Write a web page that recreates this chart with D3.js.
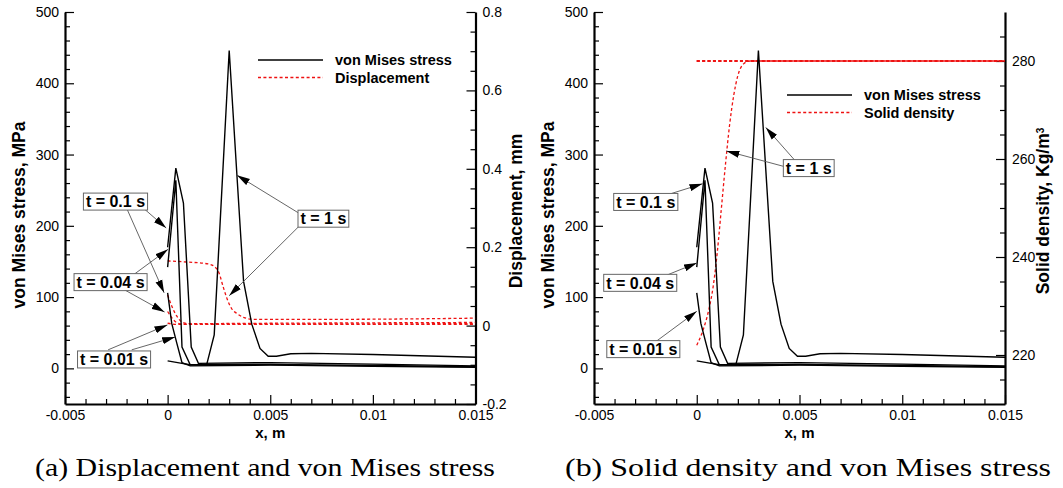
<!DOCTYPE html>
<html>
<head>
<meta charset="utf-8">
<script src="https://cdn.jsdelivr.net/npm/d3@7"></script>
<style>
  body { margin: 0; background: #fff; }
  svg { display: block; }
  .tick text { font-family: "Liberation Sans", Arial, sans-serif; font-size: 14px; fill: #000; }
</style>
</head>
<body>
<script>
'use strict';

// ---- data ----
var xTicks = [-0.005, 0, 0.005, 0.01, 0.015];
var xTickLabels = ["-0.005", "0", "0.005", "0.01", "0.015"];
var stressTicks = [0, 100, 200, 300, 400, 500];
var dispTicks = [-0.2, 0, 0.2, 0.4, 0.6, 0.8];
var dispTickLabels = ["-0.2", "0", "0.2", "0.4", "0.6", "0.8"];
var densityTicks = [220, 240, 260, 280];

// von Mises stress (MPa) vs x (m), four times
var stress_t001 = [[0,106],[0.0002,63],[0.00045,35],[0.0007,8],[0.0011,3.5],[0.005,4.5],[0.01,3],[0.015,1.5]];
var stress_t004 = [[0,142],[0.0004,264],[0.0007,30],[0.0011,5],[0.005,5.5],[0.01,4],[0.015,2.2]];
var stress_t01  = [[0,170],[0.0004,281],[0.00077,232],[0.00115,30],[0.0015,7],[0.005,8],[0.01,6],[0.015,3.5]];
var stress_t1   = [[0,10.5],[0.0007,7],[0.0011,5],[0.0019,5],[0.00227,47],[0.003,446],[0.0034,260],
                   [0.0037,122],[0.0041,62],[0.0045,28],[0.0049,17],[0.0053,17],[0.006,20.5],
                   [0.007,21],[0.01,19.5],[0.015,15.5]];

// displacement (mm)
var disp_t001 = [[0,0.006],[0.0005,0.003],[0.005,0.003],[0.015,0.003]];
var disp_t004 = [[0,0.036],[0.0002,0.02],[0.0004,0.009],[0.0007,0.004],[0.005,0.004],[0.015,0.005]];
var disp_t01  = [[0,0.078],[0.0002,0.05],[0.00045,0.024],[0.0007,0.009],[0.001,0.005],[0.005,0.006],[0.015,0.008]];
var disp_t1   = [[0,0.165],[0.001,0.162],[0.002,0.157],[0.0023,0.15],[0.0025,0.135],[0.0027,0.1],
                 [0.0029,0.068],[0.0031,0.045],[0.0034,0.03],[0.0037,0.021],[0.0042,0.016],
                 [0.008,0.016],[0.015,0.019]];

// solid density (kg/m3)
var density_t001 = [[0,280],[0.015,280]];
var density_t004 = [[0,280],[0.015,280]];
var density_t01  = [[0,280],[0.015,280]];
var density_t1   = [[0,222],[0.0003,225],[0.0006,229.5],[0.0008,234],[0.001,241],[0.0012,250],
                    [0.0014,259],[0.0016,267],[0.0018,273],[0.002,277],[0.0023,279.5],[0.0026,280],[0.015,280]];

// callouts: label centre and arrows [from, to] in (x, stress) units
var notesA = [
    {label: "t = 0.1 s",  at: [-0.00254, 234], arrows: [[[-0.00163, 236], [-0.00007, 197]], [[-0.00217, 236], [-0.00017, 106]]]},
    {label: "t = 0.04 s", at: [-0.00278, 121], arrows: [[[-0.00215, 121], [0.00002, 167]], [[-0.00215, 111], [-0.00015, 79]]]},
    {label: "t = 0.01 s", at: [-0.00261, 12.5], arrows: [[[-0.0029, 26], [-0.00001, 61]], [[-0.00175, 26], [0.00037, 44]]]},
    {label: "t = 1 s",    at: [0.00759, 210], arrows: [[[0.00638, 218], [0.00338, 271]], [[0.00646, 201], [0.003, 102]]]}
];
var notesB = [
    {label: "t = 0.1 s",  at: [-0.00248, 233.5], arrows: [[[-0.00127, 245], [0.00028, 259]]]},
    {label: "t = 0.04 s", at: [-0.00275, 120], arrows: [[[-0.00144, 131], [0.00001, 148]]]},
    {label: "t = 0.01 s", at: [-0.0026, 27], arrows: [[[-0.00197, 38], [0, 80]]]},
    {label: "t = 1 s",    at: [0.00545, 281], arrows: [[[0.00428, 283], [0.00144, 305]], [[0.00477, 292], [0.00336, 338]]]}
];

var colors = {
    stress: "#000",
    red: "#ee1111",
    arrow: "#555",
};

var W = 1063, H = 488;
var top_y = 12, bottom_y = 404;

var svg = d3.select("body").append("svg")
    .attr("width", W).attr("height", H)
    .attr("viewBox", "0 0 " + W + " " + H);

var defs = svg.append("defs");
defs.append("marker")
    .attr("id", "ah")
    .attr("viewBox", "0 -4 14 8")
    .attr("markerUnits", "userSpaceOnUse")
    .attr("markerWidth", 14).attr("markerHeight", 8)
    .attr("refX", 13).attr("refY", 0)
    .attr("orient", "auto")
    .append("path").attr("d", "M0,-3.6L13,0L0,3.6Z").attr("fill", "#000");

function range(a, b, step) {
    var out = [];
    for (var v = a; v <= b + step * 1e-6; v += step) out.push(+v.toFixed(6));
    return out;
}

function drawPanel(opts) {
    var g = svg.append("g");
    var x = d3.scaleLinear().domain([-0.005, 0.015]).range([opts.x0, opts.x1]);
    var yS = d3.scaleLinear().domain([-50, 500]).range([bottom_y, top_y]);
    var yR = d3.scaleLinear().domain(opts.rDomain).range([bottom_y, top_y]);

    var clipId = "clip" + opts.id;
    defs.append("clipPath").attr("id", clipId)
        .append("rect").attr("x", opts.x0).attr("y", top_y)
        .attr("width", opts.x1 - opts.x0).attr("height", bottom_y - top_y);

    // minor ticks
    var xMinor = range(-0.005, 0.015, 0.001).filter(v => xTicks.indexOf(v) < 0);
    var sMinor = range(-40, 480, 20).filter(v => v % 100 !== 0);
    var rMinor = range(opts.rDomain[0], opts.rDomain[1], opts.rMinorStep)
        .filter(v => opts.rTicks.every(t => Math.abs(t - v) > 1e-9))
        .filter(v => v > opts.rDomain[0] + 1e-9 && v < opts.rDomain[1] - 1e-9);

    g.append("g").attr("transform", "translate(0," + bottom_y + ")")
        .call(d3.axisBottom(x).tickValues(xMinor).tickSizeInner(-5).tickSizeOuter(0).tickFormat(""))
        .call(a => a.select(".domain").remove());
    g.append("g").attr("transform", "translate(" + opts.x0 + ",0)")
        .call(d3.axisLeft(yS).tickValues(sMinor).tickSizeInner(-5).tickSizeOuter(0).tickFormat(""))
        .call(a => a.select(".domain").remove());
    g.append("g").attr("transform", "translate(" + opts.x1 + ",0)")
        .call(d3.axisRight(yR).tickValues(rMinor).tickSizeInner(-5).tickSizeOuter(0).tickFormat(""))
        .call(a => a.select(".domain").remove());

    // major axes
    g.append("g").attr("class", "xaxis").attr("transform", "translate(0," + bottom_y + ")")
        .call(d3.axisBottom(x).tickValues(xTicks).tickSizeInner(-9).tickSizeOuter(0).tickPadding(6)
            .tickFormat((d, i) => xTickLabels[i]));
    g.append("g").attr("transform", "translate(" + opts.x0 + ",0)")
        .call(d3.axisLeft(yS).tickValues(stressTicks).tickSizeInner(-9).tickSizeOuter(0).tickPadding(6)
            .tickFormat(d3.format("d")));
    g.append("g").attr("transform", "translate(" + opts.x1 + ",0)")
        .call(d3.axisRight(yR).tickValues(opts.rTicks).tickSizeInner(-9).tickSizeOuter(0).tickPadding(7)
            .tickFormat((d, i) => opts.rLabels[i]));

    g.selectAll(".tick line").attr("stroke", "#000").attr("stroke-width", 1.2);
    g.selectAll(".domain").attr("stroke", "#000").attr("stroke-width", 2.2);

    // curves
    var plot = g.append("g").attr("clip-path", "url(#" + clipId + ")");
    var stressLine = d3.line().x(d => x(d[0])).y(d => yS(d[1]));
    var redLine = d3.line().x(d => x(d[0])).y(d => yR(d[1])).curve(d3.curveMonotoneX);

    opts.red.forEach(function (s) {
        plot.append("path").datum(s)
            .attr("d", redLine)
            .attr("fill", "none")
            .attr("stroke", colors.red)
            .attr("stroke-width", 1.3)
            .attr("stroke-dasharray", "3,2.4");
    });
    [stress_t001, stress_t004, stress_t01, stress_t1].forEach(function (s) {
        plot.append("path").datum(s)
            .attr("d", stressLine)
            .attr("fill", "none")
            .attr("stroke", colors.stress)
            .attr("stroke-width", 1.4)
            .attr("stroke-linejoin", "miter");
    });

    // axis titles
    g.append("text")
        .attr("transform", "translate(" + opts.lTitleX + "," + 215 + ") rotate(-90)")
        .attr("text-anchor", "middle")
        .attr("dy", "0.35em")
        .style("font", "bold 17.5px 'Liberation Sans', Arial, sans-serif")
        .text("von Mises stress, MPa");
    var rt = g.append("text")
        .attr("transform", "translate(" + opts.rTitleX + "," + 211 + ") rotate(-90)")
        .attr("text-anchor", "middle")
        .attr("dy", "0.35em")
        .style("font", "bold 17.5px 'Liberation Sans', Arial, sans-serif");
    rt.append("tspan").text(opts.rTitle);
    if (opts.rSup) {
        rt.append("tspan").attr("dy", "-0.55em").style("font-size", "10px").text(opts.rSup);
    }
    g.append("text")
        .attr("x", x(0.005)).attr("y", 433)
        .attr("text-anchor", "middle")
        .attr("dy", "0.35em")
        .style("font", "bold 15px 'Liberation Sans', Arial, sans-serif")
        .text("x, m");

    // legend
    var lg = g.append("g").attr("transform", "translate(" + opts.legend[0] + "," + opts.legend[1] + ")");
    lg.append("line").attr("x1", 0).attr("x2", 65).attr("y1", 0).attr("y2", 0)
        .attr("stroke", colors.stress).attr("stroke-width", 1.4);
    lg.append("line").attr("x1", 0).attr("x2", 65).attr("y1", 17.5).attr("y2", 17.5)
        .attr("stroke", colors.red).attr("stroke-width", 1.3).attr("stroke-dasharray", "3,2.4");
    lg.append("text").attr("x", 77).attr("y", 0).attr("dy", "0.35em")
        .style("font", "bold 14.5px 'Liberation Sans', Arial, sans-serif").text("von Mises stress");
    lg.append("text").attr("x", 77).attr("y", 17.5).attr("dy", "0.35em")
        .style("font", "bold 14.5px 'Liberation Sans', Arial, sans-serif").text(opts.redName);

    // callouts
    opts.notes.forEach(function (n) {
        n.arrows.forEach(function (a) {
            g.append("line")
                .attr("x1", x(a[0][0])).attr("y1", yS(a[0][1]))
                .attr("x2", x(a[1][0])).attr("y2", yS(a[1][1]))
                .attr("stroke", colors.arrow).attr("stroke-width", 0.9)
                .attr("marker-end", "url(#ah)");
        });
    });
    opts.notes.forEach(function (n) {
        var cx = x(n.at[0]), cy = yS(n.at[1]);
        var lab = g.append("g");
        var r = lab.append("rect");
        var t = lab.append("text")
            .attr("x", cx).attr("y", cy).attr("dy", "0.36em")
            .attr("text-anchor", "middle")
            .style("font", "bold 16px 'Liberation Sans', Arial, sans-serif")
            .text(n.label);
        var w = t.node().getComputedTextLength();
        r.attr("x", cx - w / 2 - 2.5).attr("y", cy - 8.5)
            .attr("width", w + 5).attr("height", 17)
            .attr("fill", "#fff").attr("stroke", "#666").attr("stroke-width", 1);
    });

    // caption
    svg.append("text")
        .attr("x", opts.capX).attr("y", 476)
        .attr("text-anchor", "middle")
        .attr("textLength", opts.capW).attr("lengthAdjust", "spacingAndGlyphs")
        .style("font", "26px 'Liberation Serif', 'Times New Roman', serif")
        .text(opts.caption);
}

drawPanel({
    id: "a", x0: 65, x1: 475.5,
    rDomain: [-0.2, 0.8], rTicks: dispTicks, rLabels: dispTickLabels, rMinorStep: 0.05,
    red: [disp_t001, disp_t004, disp_t01, disp_t1],
    redName: "Displacement",
    rTitle: "Displacement, mm", rSup: null,
    lTitleX: 19, rTitleX: 516,
    legend: [258, 60],
    notes: notesA,
    capX: 265, capW: 460,
    caption: "(a) Displacement and von Mises stress"
});

drawPanel({
    id: "b", x0: 594, x1: 1005,
    rDomain: [210, 290], rTicks: densityTicks, rLabels: densityTicks.map(String), rMinorStep: 5,
    red: [density_t001, density_t004, density_t01, density_t1],
    redName: "Solid density",
    rTitle: "Solid density, Kg/m", rSup: "3",
    lTitleX: 548, rTitleX: 1043,
    legend: [787, 95],
    notes: notesB,
    capX: 808, capW: 486,
    caption: "(b) Solid density and von Mises stress"
});
</script>
</body>
</html>
